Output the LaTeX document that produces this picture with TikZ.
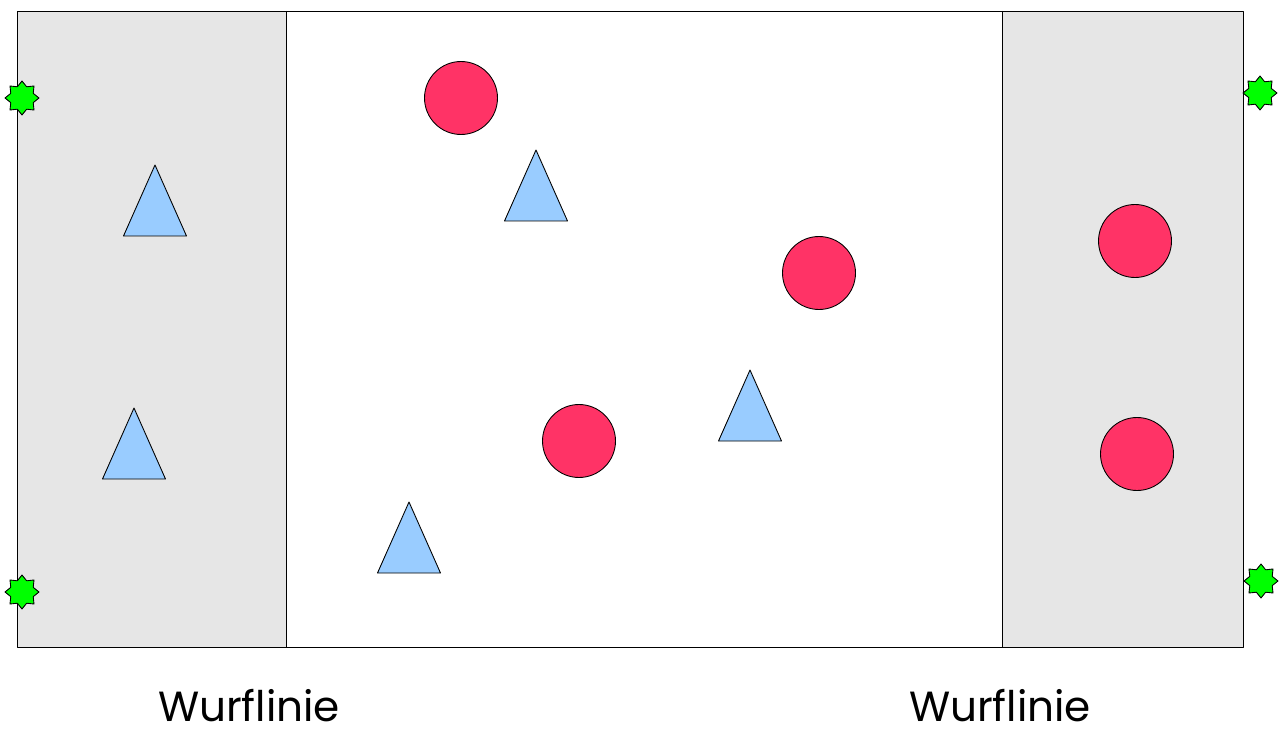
\documentclass[tikz,border=0pt]{standalone}
\usepackage{fontspec}
\setmainfont{Poppins}
\usetikzlibrary{shapes.geometric}
\definecolor{zone}{HTML}{E6E6E6}
\definecolor{ball}{HTML}{FF3366}
\definecolor{cone}{HTML}{99CCFF}
\definecolor{mark}{HTML}{00FF00}
\begin{document}
\begin{tikzpicture}[x=0.02cm, y=-0.02cm, line join=round, line width=0.5pt]
  \useasboundingbox (0,0) rectangle (1281,729);
  % Field and throwing zones
  \fill[zone] (17,11) rectangle (286,647);
  \fill[zone] (1002,11) rectangle (1243,647);
  \draw (17,11) rectangle (1243,647);
  \draw (286,11) -- (286,647);
  \draw (1002,11) -- (1002,647);

  % Balls
  \foreach \x/\y [count=\i] in {461/98, 819/273, 579/441, 1135/241, 1137/454}
    \node[circle, draw, fill=ball, minimum size=1.46cm, inner sep=0] (ball\i) at (\x,\y) {};

  % Cones
  \foreach \x/\y in {155/165, 134/408, 536/150, 750/370, 409/502}
    \filldraw[fill=cone] (\x,\y) -- ++(31.5,71) -- ++(-63,0) -- cycle;

  % Corner marks
  \foreach \x/\y [count=\i] in {22/98, 22/592, 1260/93, 1261/581}
    \node[star, star points=8, star point ratio=1.4, draw, fill=mark,
          minimum size=0.68cm, inner sep=0] (mark\i) at (\x,\y) {};

  % Labels
  \node[font=\fontsize{24}{26}\selectfont, anchor=base, inner sep=0] (lineL) at (249,721) {Wurflinie};
  \node[font=\fontsize{24}{26}\selectfont, anchor=base, inner sep=0] (lineR) at (1000,721) {Wurflinie};
\end{tikzpicture}
\end{document}
